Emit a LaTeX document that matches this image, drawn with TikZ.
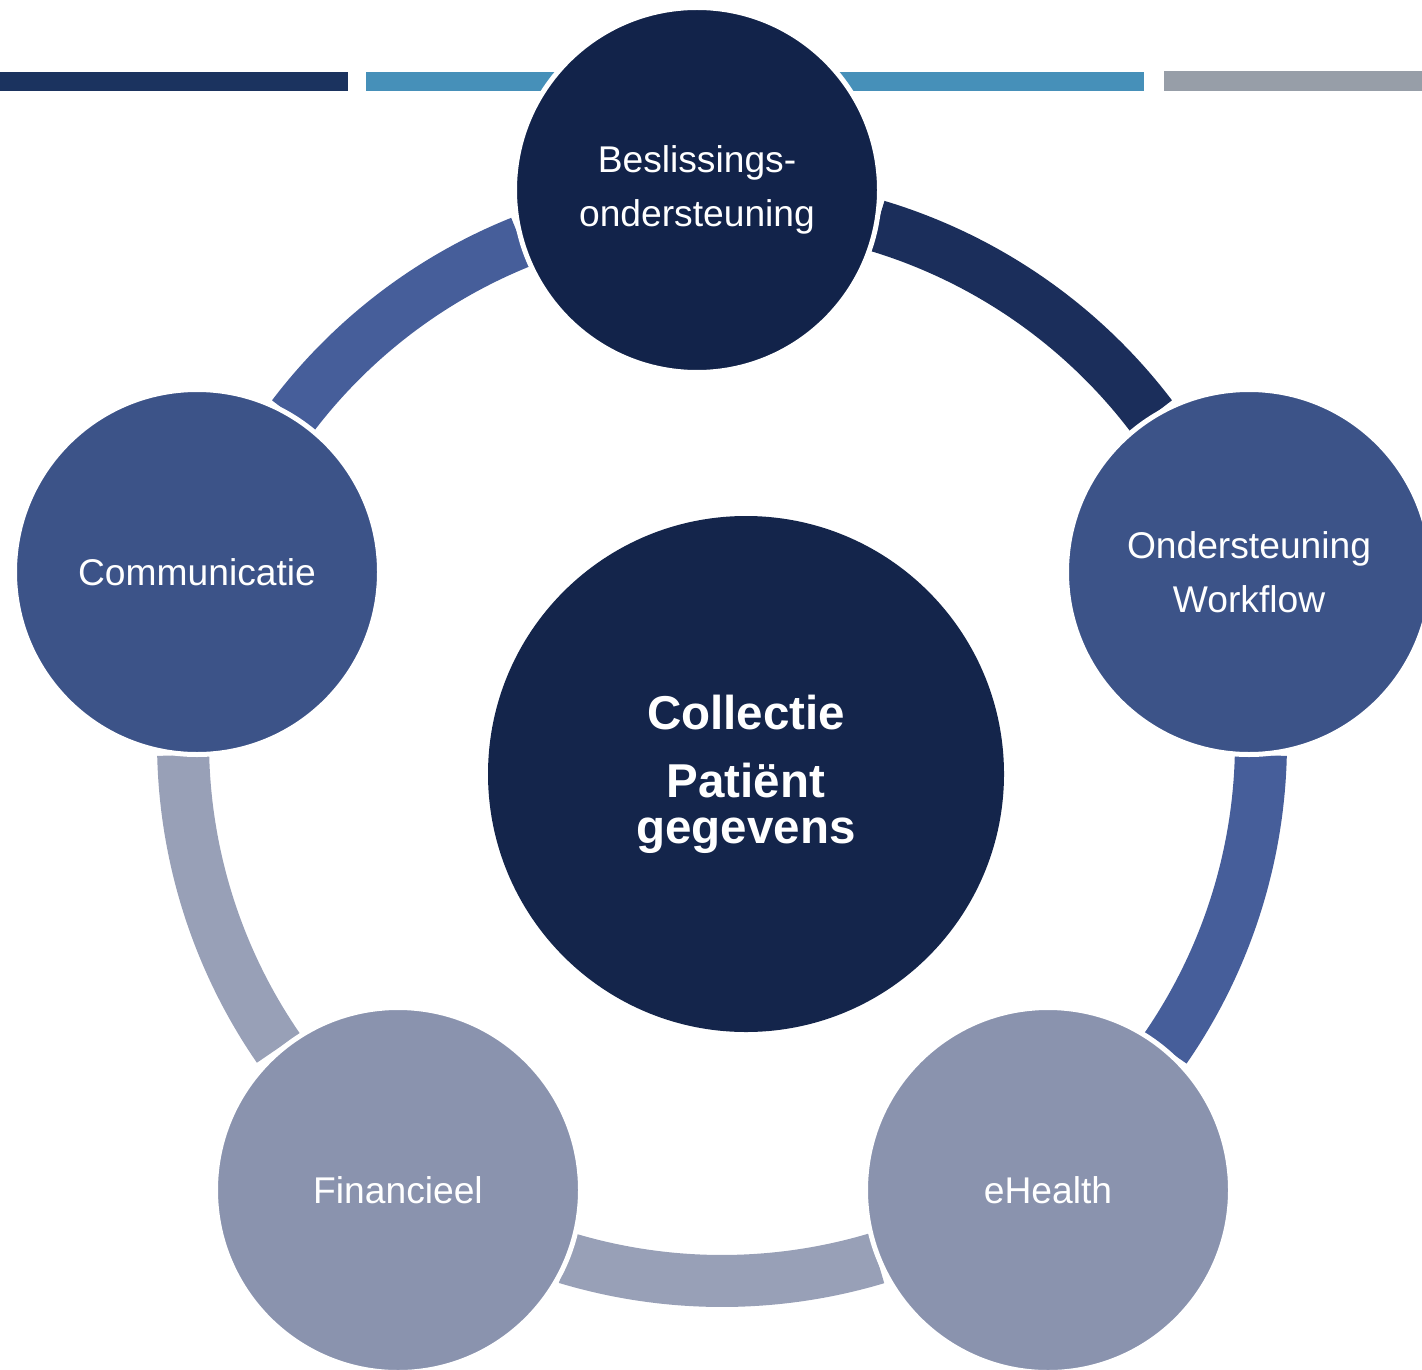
\documentclass[tikz,border=0pt]{standalone}
\usepackage{fontspec}
\setmainfont{Liberation Sans}
\definecolor{barnavy}{HTML}{1B335F}
\definecolor{barblue}{HTML}{4690B9}
\definecolor{bargray}{HTML}{979EA8}
\definecolor{navyfill}{HTML}{12234A}
\definecolor{hubfill}{HTML}{14254B}
\definecolor{midfill}{HTML}{3C5388}
\definecolor{grayfill}{HTML}{8A93AE}
\definecolor{arcnavy}{HTML}{1B2E5B}
\definecolor{arcmid}{HTML}{465E9A}
\definecolor{arcgray}{HTML}{98A0B7}
\begin{document}
\begin{tikzpicture}[x=0.5pt,y=0.5pt,
  ringarc/.style={line width=26pt},
  bubble/.style={circle, minimum size=182.5pt, inner sep=0pt, draw=white, line width=2.5pt, text=white, align=center, font=\fontsize{18.6}{27}\selectfont},
  hub/.style={circle, minimum size=258pt, inner sep=0pt, fill=hubfill, text=white, align=center, font=\bfseries\fontsize{23.75}{23}\selectfont}]
\useasboundingbox (0,0) rectangle (1422,-1369);
% top bars
\fill[barnavy] (0,-72) rectangle (348,-91);
\fill[barblue] (366,-72) rectangle (1144,-91);
\fill[bargray] (1164,-71) rectangle (1422,-91);
% ring arcs
\coordinate (ring) at (722,-742);
\draw[ringarc, arcmid]  ([shift={(111.9:539)}]ring) arc[start angle=111.9, end angle=142.8, radius=539];
\draw[ringarc, arcnavy] ([shift={(37.2:539)}]ring) arc[start angle=37.2, end angle=73.3, radius=539];
\draw[ringarc, arcmid]  ([shift={(-34.7:539)}]ring) arc[start angle=-34.7, end angle=-1.4, radius=539];
\draw[ringarc, arcgray] ([shift={(-106.8:539)}]ring) arc[start angle=-106.8, end angle=-73.3, radius=539];
\draw[ringarc, arcgray] ([shift={(181.4:539)}]ring) arc[start angle=181.4, end angle=214.6, radius=539];
% circles
\node[bubble, fill=navyfill] (beslis) at (697,-190) {Beslissings-\\ondersteuning};
\node[bubble, fill=midfill] (workflow) at (1249,-572) {Ondersteuning\\Workflow};
\node[bubble, fill=grayfill] (ehealth) at (1048,-1190) {eHealth};
\node[bubble, fill=grayfill] (fin) at (398,-1190) {Financieel};
\node[bubble, fill=midfill] (comm) at (197,-572) {Communicatie};
\node[hub] (hub) at (746,-774) {Collectie\\[11pt]Patiënt\\gegevens};
\end{tikzpicture}
\end{document}
